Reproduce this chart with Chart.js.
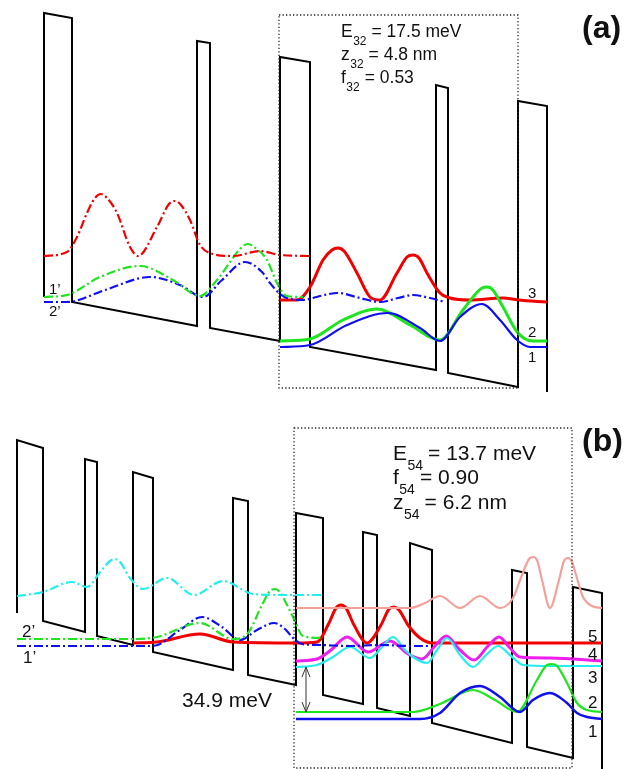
<!DOCTYPE html>
<html>
<head>
<meta charset="utf-8">
<script src="https://cdn.jsdelivr.net/npm/chart.js@4.4.1/dist/chart.umd.min.js"></script>
<style>
html, body { margin:0; padding:0; background:#fff; overflow:hidden; }
canvas { display:block; }
</style>
</head>
<body>
<canvas id="qcl" width="636" height="769"></canvas>
<script>

/* (a) conduction band edge, corners left to right */
const bandA = [[44,297],[44,13],[72,18],[72,302],[197,326],[197,41],[210,43],[210,328],[280,341],[280,57],[310,62],[310,347],[436,370],[436,85],[448,88],[448,373],[518,387],[518,101],[547,106],[547,392]];

/* (a) wavefunctions of the previous period (dash-dot) */
const aRedPrev = [[44,256],[67,252],[77,237],[87,213],[95,198],[101,194],[107,198],[117,213],[130,247],[138,256],[157,227],[169,204],[175,201],[181,205],[190,220],[200,245],[213,254],[233,256],[260,251],[280,255],[310,256]];
const aLevel1p = [[44,297],[67,295],[100,277],[140,266],[173,280],[200,296],[217,280],[243,246],[248,244],[254,247],[267,260],[277,283],[287,296],[303,297]];
const aLevel2p = [[44,302],[67,302],[105,290],[150,277],[180,285],[203,297],[222,280],[245,262],[262,272],[270,283],[280,294],[290,299],[303,300],[320,296],[338,293],[360,298],[380,302],[398,298],[413,295],[430,298],[445,302]];

/* (a) wavefunctions 3, 2, 1 */
const aLevel3 = [[280,300],[297,300],[310,287],[323,260],[332,250],[338,248],[344,251],[357,273],[370,297],[380,300],[397,273],[407,257],[413,255],[419,258],[427,273],[440,293],[450,298],[470,300],[503,298],[518,300],[547,302]];
const aLevel2 = [[280,341],[310,339],[343,320],[377,309],[410,325],[440,340],[463,310],[482,288],[487,287],[492,289],[503,307],[518,333],[533,341],[547,341]];
const aLevel1 = [[280,347],[310,345],[347,325],[388,313],[420,328],[440,341],[460,317],[482,304],[500,320],[517,340],[530,347],[547,347]];

/* (b) conduction band edge */
const bandB = [[17,613],[17,440],[43,448],[43,621],[85,632],[85,459],[97,462],[97,636],[133,645],[133,472],[153,478],[153,652],[233,670],[233,498],[248,501],[248,675],[296,685],[296,513],[323,518],[323,695],[363,704],[363,532],[377,535],[377,708],[410,716],[410,543],[432,550],[432,723],[512,743],[512,570],[527,573],[527,747],[573,758],[573,587],[602,593],[602,769]];

/* (b) previous period (dash-dot) */
const bCyanPrev = [[17,596],[43,592],[72,582],[87,587],[100,572],[110,561],[115,559],[120,562],[130,578],[143,589],[167,578],[194,595],[223,581],[253,594],[280,595],[323,595]];
const bLevel2p = [[17,639],[133,639],[157,637],[200,623],[233,639],[248,633],[262,605],[271,590],[275,589],[280,592],[286,603],[293,617],[303,636],[323,638]];
const bLevel1p = [[17,646],[153,646],[180,630],[202,617],[222,627],[240,640],[257,630],[274,623],[285,629],[293,638],[302,644],[320,645],[350,646],[380,645],[410,646],[430,646]];

/* (b) wavefunctions of the active period */
const bUpper  = [[296,608],[410,608],[425,603],[440,596],[460,608],[480,596],[500,608],[513,598],[522,575],[529,559],[533,557],[537,560],[542,580],[550,608],[559,580],[564,561],[568,558],[572,562],[576,575],[583,597],[592,606],[602,608]];
const bLevel5 = [[133,643],[157,642],[200,634],[233,642],[296,643],[317,642],[329,623],[336,608],[341,605],[346,608],[354,625],[367,643],[381,625],[389,609],[394,607],[399,610],[408,625],[420,638],[433,643],[480,643],[602,643]];
const bLevel4 = [[296,661],[317,659],[331,650],[347,637],[368,652],[390,641],[408,654],[422,659],[435,646],[446,636],[460,650],[474,660],[488,646],[499,637],[510,648],[520,657],[550,658],[602,661]];
const bLevel3 = [[296,667],[317,665],[333,657],[350,647],[370,658],[382,647],[393,637],[405,650],[413,657],[427,663],[437,650],[447,638],[460,655],[473,667],[486,655],[498,646],[510,655],[523,665],[550,666],[602,666]];
const bLevel2 = [[296,712],[413,712],[440,704],[473,690],[495,700],[517,712],[537,680],[547,665],[552,664],[557,666],[567,683],[577,703],[587,710],[602,712]];
const bLevel1 = [[296,719],[420,719],[440,713],[460,693],[480,686],[500,697],[520,712],[533,700],[550,693],[567,703],[577,713],[587,717],[602,719]];

/* text */
const aParams = [['E','32','= 17.5 meV'],['z','32','= 4.8 nm'],['f','32','= 0.53']];
const bParams = [['E','54','= 13.7 meV'],['f','54','= 0.90'],['z','54','= 6.2 nm']];
const aLevelNames = ['3','2','1'];
const bLevelNames = ['5','4','3','2','1'];
const gapLabel = '34.9 meV';
const gapEnds = [667, 712];


const FONT = '"Liberation Sans", Arial, Helvetica, sans-serif';
const RED = '#f20000', GREEN = '#1ee51e', BLUE = '#1010ee', CYAN = '#22eeee', MAGENTA = '#ee1eee', PINK = '#f5a09b';

function pts(a){ return a.map(p => ({x:p[0], y:p[1]})); }

function band(a){
  return { data:pts(a), borderColor:'#000', borderWidth:2, tension:0, pointRadius:0, fill:false, order:10 };
}

function wave(a, color, width, dashed){
  return {
    data:pts(a), borderColor:color, borderWidth:width,
    borderDash: dashed ? [9,3,2,3] : [],
    cubicInterpolationMode:'monotone', pointRadius:0, fill:false, order:1
  };
}

/* frames, captions, level numbers, arrow */
const annotations = {
  id:'annotations',
  afterDatasetsDraw(chart){
    const ctx = chart.ctx, sx = chart.scales.x, sy = chart.scales.y;
    const X = v => sx.getPixelForValue(v), Y = v => sy.getPixelForValue(v);

    ctx.save();

    // dotted boxes
    ctx.strokeStyle = '#222';
    ctx.lineWidth = 1.3;
    ctx.setLineDash([1.3,2.2]);
    [[279,518,15,388],[294,572,428,768]].forEach(b => {
      ctx.strokeRect(X(b[0]), Y(b[2]), X(b[1]) - X(b[0]), Y(b[3]) - Y(b[2]));
    });
    ctx.setLineDash([]);

    ctx.fillStyle = '#111';
    ctx.textBaseline = 'alphabetic';
    ctx.textAlign = 'left';

    function param(p, x, y, size, subSize, drop){
      ctx.font = size + 'px ' + FONT;
      ctx.fillText(p[0], X(x), Y(y));
      let xs = X(x) + ctx.measureText(p[0]).width + 0.5;
      ctx.font = subSize + 'px ' + FONT;
      ctx.fillText(p[1], xs, Y(y) + drop);
      xs += ctx.measureText(p[1]).width + 5;
      ctx.font = size + 'px ' + FONT;
      ctx.fillText(p[2], xs, Y(y));
    }
    aParams.forEach((p, i) => param(p, 341, [37, 60, 83][i], 17.5, 12, 8));
    bParams.forEach((p, i) => param(p, 393, [460, 484, 509][i], 21, 14, 10));

    ctx.font = 'bold 32px ' + FONT;
    ctx.fillText('(a)', X(582), Y(38));
    ctx.fillText('(b)', X(582), Y(451));

    ctx.font = '15px ' + FONT;
    aLevelNames.forEach((t, i) => ctx.fillText(t, X(528), Y([298, 337, 362][i])));
    ctx.fillText('1\u2019', X(49), Y(294));
    ctx.fillText('2\u2019', X(49), Y(316));

    ctx.font = '17px ' + FONT;
    bLevelNames.forEach((t, i) => ctx.fillText(t, X(588), Y([642, 660, 683, 708, 737][i])));
    ctx.fillText('2\u2019', X(22), Y(637));
    ctx.fillText('1\u2019', X(23), Y(663));

    ctx.font = '21px ' + FONT;
    ctx.fillText(gapLabel, X(182), Y(707));

    // double arrow for the 3-2 spacing
    const ax = X(306), y0 = Y(gapEnds[0]), y1 = Y(gapEnds[1]);
    ctx.strokeStyle = '#333';
    ctx.lineWidth = 1;
    ctx.beginPath();
    ctx.moveTo(ax, y0); ctx.lineTo(ax, y1);
    ctx.moveTo(ax - 4, y0 + 10); ctx.lineTo(ax, y0); ctx.lineTo(ax + 4, y0 + 10);
    ctx.moveTo(ax - 4, y1 - 10); ctx.lineTo(ax, y1); ctx.lineTo(ax + 4, y1 - 10);
    ctx.stroke();

    ctx.restore();
  }
};

new Chart(document.getElementById('qcl'), {
  type:'line',
  data:{
    datasets:[
      wave(aRedPrev, RED, 2.2, true),
      wave(aLevel1p, GREEN, 2.2, true),
      wave(aLevel2p, BLUE, 2.2, true),
      wave(aLevel1, BLUE, 2.2, false),
      wave(aLevel2, GREEN, 3, false),
      wave(aLevel3, RED, 3, false),

      wave(bCyanPrev, CYAN, 2.2, true),
      wave(bLevel2p, GREEN, 2.2, true),
      wave(bLevel1p, BLUE, 2.2, true),
      wave(bUpper, PINK, 2.2, false),
      wave(bLevel1, BLUE, 2.5, false),
      wave(bLevel2, GREEN, 2.2, false),
      wave(bLevel3, CYAN, 2.2, false),
      wave(bLevel4, MAGENTA, 3, false),
      wave(bLevel5, RED, 3, false),

      band(bandA),
      band(bandB)
    ]
  },
  options:{
    responsive:false,
    animation:false,
    layout:{ padding:0 },
    plugins:{ legend:{ display:false }, tooltip:{ enabled:false } },
    scales:{
      x:{ type:'linear', min:0, max:636, display:false },
      y:{ type:'linear', min:0, max:769, reverse:true, display:false }
    }
  },
  plugins:[annotations]
});
</script>
</body>
</html>
